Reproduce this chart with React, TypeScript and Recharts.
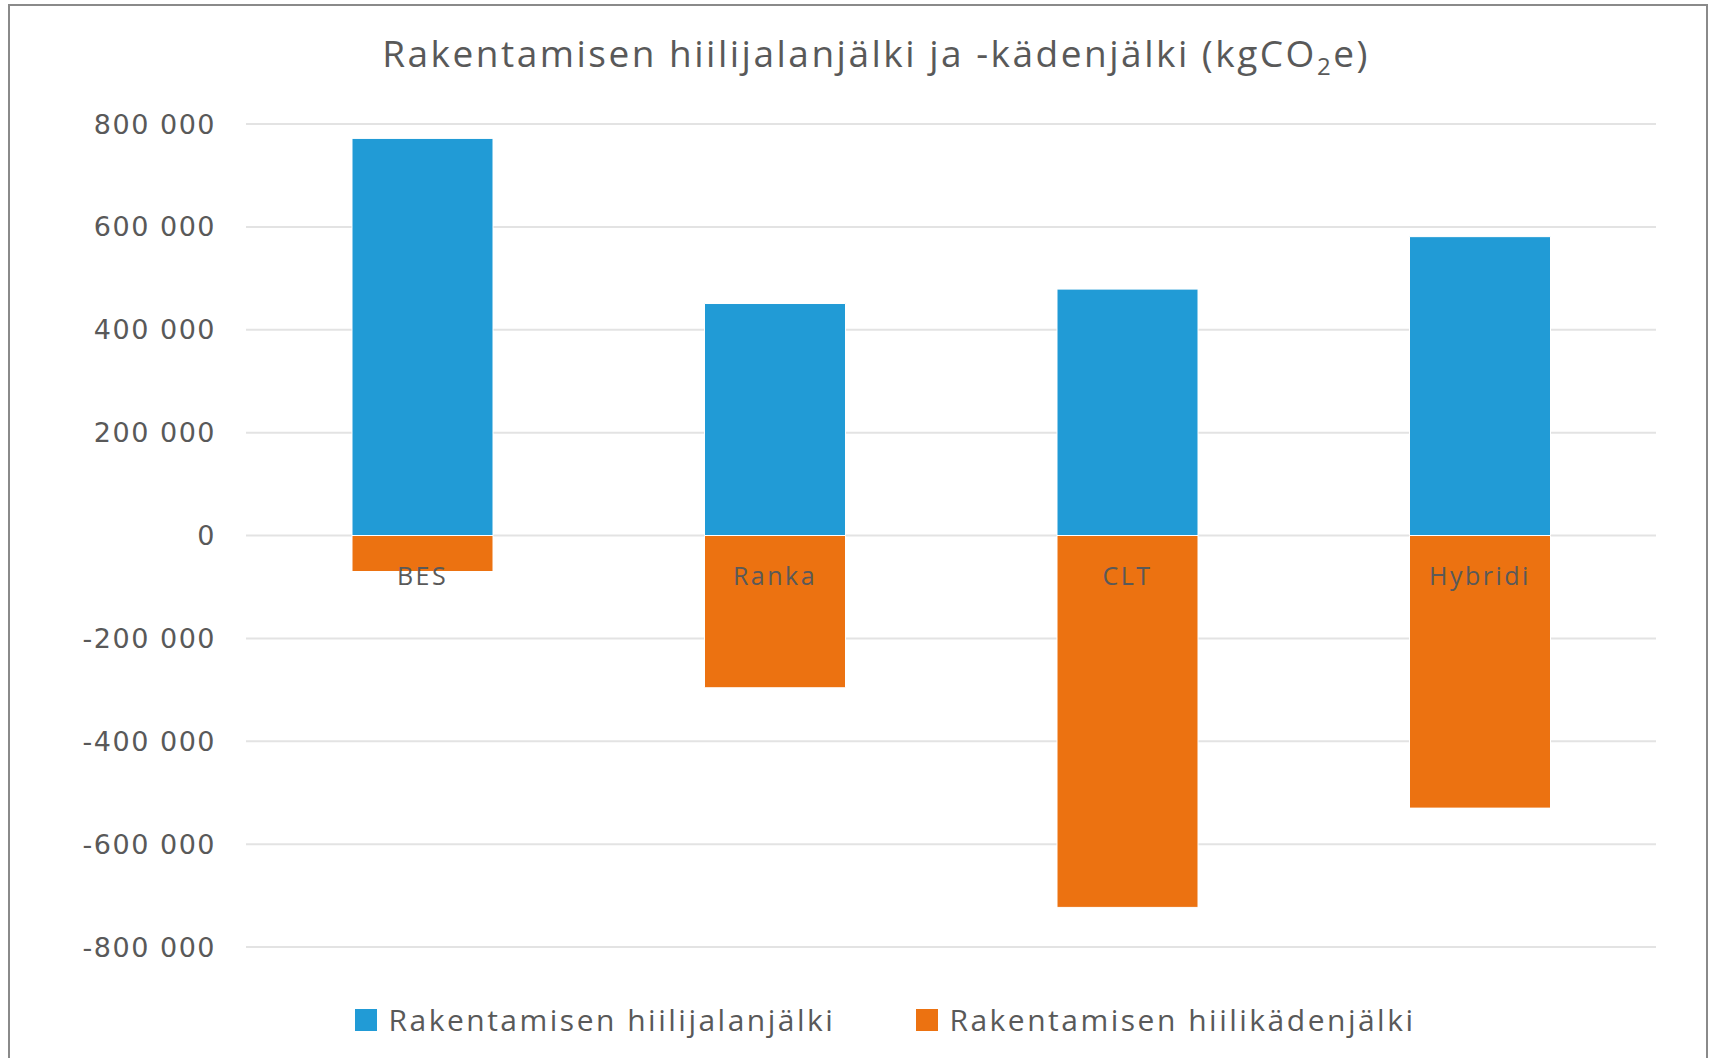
import { BarChart, Bar, XAxis, YAxis, CartesianGrid, LabelList } from 'recharts';

const categories = ['BES', 'Ranka', 'CLT', 'Hybridi'];
const jalanjalki = [772000, 451000, 479000, 581000];
const kadenjalki = [-70000, -296000, -723000, -530000];
const yTicks = [-800000, -600000, -400000, -200000, 0, 200000, 400000, 600000, 800000];

const seriesNames = ['Rakentamisen hiilijalanjälki', 'Rakentamisen hiilikädenjälki'];
const BLUE = '#219BD6';
const ORANGE = '#EC7211';
const FONT = '"Open Sans", "Noto Sans", sans-serif';

const data = categories.map((name, i) => ({
  name,
  jalan: jalanjalki[i],
  kaden: kadenjalki[i],
}));

const fmt = (v: number) => {
  const s = Math.abs(v).toString().replace(/\B(?=(\d{3})+(?!\d))/g, ' ');
  return v < 0 ? '-' + s : s;
};

function CategoryLabel(props: any) {
  const { x, y, width, height, value } = props;
  const top = Math.min(y, y + height);
  return (
    <text
      x={x + width / 2}
      y={top + 31}
      dy="0.72em"
      textAnchor="middle"
      fill="#595959"
      fontFamily={FONT}
      fontSize={25}
      letterSpacing={2.5}
    >
      {value}
    </text>
  );
}

function LegendBox() {
  const colors = [BLUE, ORANGE];
  return (
    <div style={{ display: 'flex', justifyContent: 'center', alignItems: 'center', fontFamily: FONT }}>
      {seriesNames.map((n, i) => (
        <div key={n} style={{ display: 'flex', alignItems: 'center', marginRight: i === 0 ? 81 : 0 }}>
          <span style={{ width: 22, height: 22, background: colors[i], display: 'inline-block', marginRight: 11 }} />
          <span style={{ fontSize: 30, color: '#595959', letterSpacing: 2.5 }}>{n}</span>
        </div>
      ))}
    </div>
  );
}

export default function App() {
  return (
    <div style={{ position: 'absolute', left: 0, top: 0, width: 1717, height: 1058, background: '#fff', overflow: 'hidden' }}>
      <div
        style={{
          position: 'absolute', left: 8, top: 4, width: 1700, height: 1100,
          border: '2px solid #8a8a8a', boxSizing: 'border-box',
        }}
      />
      <div
        style={{
          position: 'absolute', left: 0, top: 28, width: 1752, textAlign: 'center',
          fontFamily: FONT, fontSize: 37, color: '#595959', lineHeight: '50px', letterSpacing: 2.5,
        }}
      >
        Rakentamisen hiilijalanjälki ja -kädenjälki (kgCO<sub style={{ fontSize: 24 }}>2</sub>e)
      </div>
      <div style={{ position: 'absolute', left: 0, top: 0 }}>
        <BarChart
          width={1717}
          height={1058}
          data={data}
          stackOffset="sign"
          margin={{ top: 124, right: 61, bottom: 111, left: 0 }}
        >
          <CartesianGrid vertical={false} stroke="#e3e3e3" strokeWidth={2} />
          <XAxis dataKey="name" hide />
          <YAxis
            width={246}
            domain={[-800000, 800000]}
            ticks={yTicks}
            tickFormatter={fmt}
            axisLine={false}
            tickLine={false}
            tickSize={0}
            tickMargin={30}
            tick={{ fill: '#595959', fontSize: 27, fontFamily: '"DejaVu Sans", sans-serif', letterSpacing: 1.5 }}
          />
          <Bar dataKey="jalan" name={seriesNames[0]} stackId="a" fill={BLUE} barSize={141} stroke="#ffffff" strokeWidth={1} isAnimationActive={false} />
          <Bar dataKey="kaden" name={seriesNames[1]} stackId="a" fill={ORANGE} barSize={141} stroke="#ffffff" strokeWidth={1} isAnimationActive={false}>
            <LabelList dataKey="name" content={CategoryLabel} />
          </Bar>
        </BarChart>
      </div>
      <div style={{ position: 'absolute', left: 0, top: 999, width: 1771 }}>
        <LegendBox />
      </div>
    </div>
  );
}
